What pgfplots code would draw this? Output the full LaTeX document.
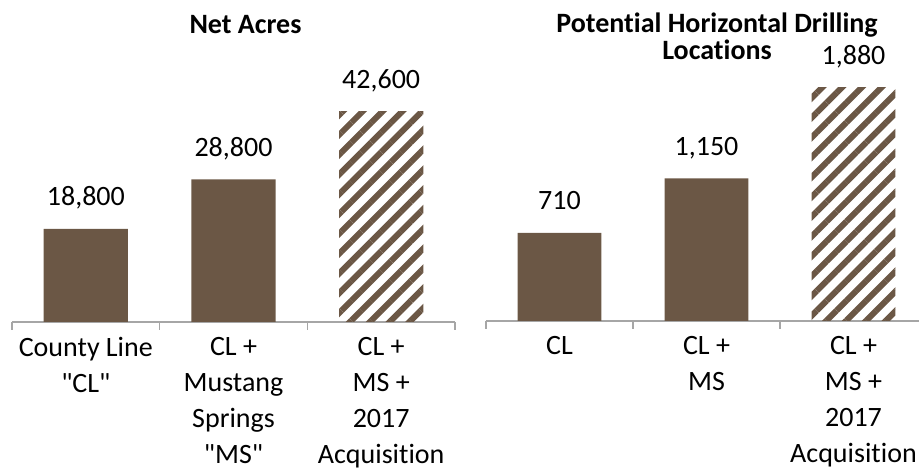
\documentclass[border=0pt]{standalone}
\usepackage{fontspec}
\setmainfont{Carlito}[Ligatures={NoCommon}]
\usepackage{pgfplots}
\pgfplotsset{compat=1.18}
\usetikzlibrary{patterns.meta}
\definecolor{barbrown}{HTML}{6B5745}
\definecolor{axgray}{HTML}{A6A6A6}
\pgfplotsset{
  mybars/.style={
    scale only axis,
    axis x line*=bottom,
    axis y line=none,
    axis line style={axgray, line width=0.6pt},
    xmin=-0.5, xmax=2.5, ymin=0,
    xtick={0,1,2},
    major tick length=0pt,
    extra x ticks={-0.5,0.5,1.5,2.5},
    extra x tick labels={},
    extra x tick style={major tick length=4pt, tick align=outside, tick style={axgray, line width=0.6pt}},
    xticklabel style={align=center, font=\fontsize{14}{18}\selectfont, yshift=-4pt},
    bar width=0.57,
    clip=false,
    nodes near coords={\pgfmathprintnumber[assume math mode=true,1000 sep={,}]{\pgfplotspointmeta}},
    every node near coord/.append style={font=\fontsize{14}{17}\selectfont, text=black, text depth=2pt, yshift=6pt},
    title style={font=\fontsize{14}{13.5}\selectfont\bfseries, align=center, anchor=center},
  }
}
\begin{document}
\begin{tikzpicture}[x=1pt,y=1pt]
\useasboundingbox (0,0) rectangle (459.5,237);
\clip (0,0) rectangle (459.5,237);
\begin{axis}[mybars,
  at={(6pt,76pt)}, anchor=south west,
  width=221.5pt, height=111.4pt, ymax=45000,
  xticklabels={County Line\\\textquotedbl CL\textquotedbl, CL +\\Mustang\\Springs\\\textquotedbl MS\textquotedbl, CL +\\MS +\\2017\\Acquisition},
  title={Net Acres},
  title style={at={(rel axis cs:0.5,1)}, yshift=31.5pt, xshift=6pt},
]
\addplot[ybar, bar shift=0pt, fill=barbrown, draw=none] coordinates {(0,18800) (1,28800)};
\addplot[ybar, bar shift=0pt, draw=none, pattern={Lines[angle=45,distance=7pt,line width=3pt]}, pattern color=barbrown] coordinates {(2,42600)};
\end{axis}
\begin{axis}[mybars,
  at={(243pt,76.5pt)}, anchor=south west,
  width=220.5pt, height=124pt, ymax=2000,
  xticklabels={CL, CL +\\MS, CL +\\MS +\\2017\\Acquisition},
  title={Potential Horizontal Drilling\\Locations},
  title style={at={(rel axis cs:0.5,1)}, yshift=12.25pt, xshift=5.25pt},
]
\addplot[ybar, bar shift=0pt, fill=barbrown, draw=none] coordinates {(0,710) (1,1150)};
\addplot[ybar, bar shift=0pt, draw=none, pattern={Lines[angle=45,distance=7pt,line width=3pt]}, pattern color=barbrown] coordinates {(2,1880)};
\end{axis}
\end{tikzpicture}
\end{document}
